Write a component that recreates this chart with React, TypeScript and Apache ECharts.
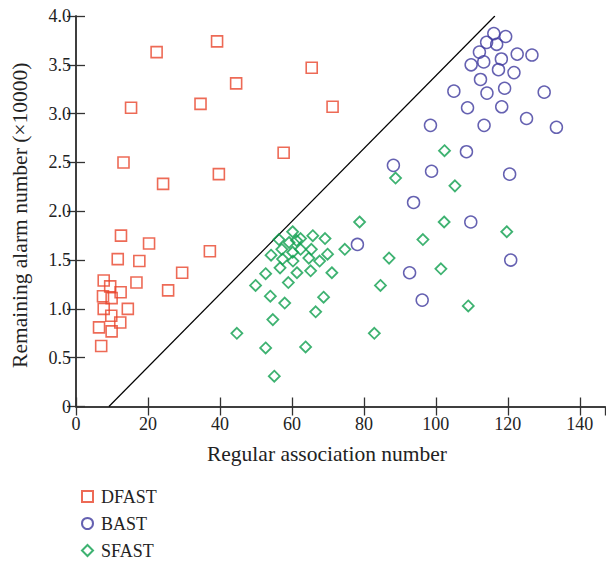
import React, { useEffect, useRef } from "react";
import * as echarts from "echarts";

const dfastX = [22.4, 39.2, 44.5, 15.3, 34.6, 13.2, 24.2, 39.7, 65.5, 71.3, 57.7, 12.5, 20.3, 11.6, 17.6, 37.2, 29.5, 7.7, 16.8, 9.5, 12.4, 7.5, 9.9, 25.6, 7.7, 14.4, 9.8, 12.3, 6.4, 9.9, 7.0];
const dfastY = [3.63, 3.74, 3.31, 3.06, 3.10, 2.50, 2.28, 2.38, 3.47, 3.07, 2.60, 1.75, 1.67, 1.51, 1.49, 1.59, 1.37, 1.29, 1.27, 1.23, 1.17, 1.13, 1.11, 1.19, 1.00, 1.00, 0.93, 0.86, 0.81, 0.77, 0.62];

const bastX = [116.1, 119.4, 114.1, 116.9, 112.1, 122.6, 126.7, 109.8, 113.3, 118.2, 117.4, 121.7, 112.4, 105.0, 114.2, 119.1, 130.1, 108.8, 118.3, 125.2, 113.4, 133.5, 98.5, 108.5, 88.2, 98.8, 120.5, 93.8, 109.7, 120.8, 92.7, 96.2, 78.2];
const bastY = [3.82, 3.79, 3.73, 3.71, 3.63, 3.61, 3.60, 3.50, 3.53, 3.56, 3.45, 3.42, 3.35, 3.23, 3.21, 3.26, 3.22, 3.06, 3.07, 2.95, 2.88, 2.86, 2.88, 2.61, 2.47, 2.41, 2.38, 2.09, 1.89, 1.50, 1.37, 1.09, 1.66];

const sfastX = [78.8, 96.4, 60.2, 56.4, 62.4, 65.8, 69.2, 59.2, 61.3, 57.2, 60.2, 62.4, 65.4, 54.2, 57.4, 60.3, 64.7, 67.7, 69.9, 74.7, 56.7, 52.7, 61.4, 65.2, 71.1, 49.9, 59.0, 54.0, 58.0, 68.8, 66.6, 54.7, 44.7, 52.7, 63.8, 55.1, 84.6, 87.0, 82.9, 102.4, 88.8, 105.3, 102.3, 119.7, 101.4, 109.0];
const sfastY = [1.89, 1.71, 1.79, 1.71, 1.72, 1.75, 1.72, 1.68, 1.70, 1.61, 1.58, 1.61, 1.61, 1.55, 1.51, 1.49, 1.52, 1.49, 1.56, 1.61, 1.42, 1.36, 1.37, 1.39, 1.37, 1.24, 1.27, 1.13, 1.06, 1.12, 0.97, 0.89, 0.75, 0.60, 0.61, 0.31, 1.24, 1.52, 0.75, 2.62, 2.34, 2.26, 1.89, 1.79, 1.41, 1.03];

// reference diagonal line endpoints
const lineX = [9.15, 116.4];
const lineY = [0, 4.0];

const seriesNames = ["DFAST", "BAST", "SFAST"];
const colors = ["#e8452c", "#3f3a9e", "#0e9f4e"];

const zip = (xs: number[], ys: number[]) => xs.map((x, i) => [x, ys[i]]);

const FONT = "Liberation Serif";
const AXIS_COLOR = "#333";

export default function App() {
  const ref = useRef<HTMLDivElement>(null);
  useEffect(() => {
    if (!ref.current) return;
    const chart = echarts.init(ref.current, null, { renderer: "svg" });
    const tick = { show: true, inside: true, length: 9, lineStyle: { color: AXIS_COLOR, width: 1.3 } };
    const line = { show: true, lineStyle: { color: AXIS_COLOR, width: 1.5 } };
    chart.setOption({
      animation: false,
      backgroundColor: "#fff",
      textStyle: { fontFamily: FONT },
      grid: { left: 76, top: 16, width: 529, height: 390.5, containLabel: false },
      legend: {
        orient: "vertical",
        left: 76,
        top: 482,
        height: 120,
        itemWidth: 11,
        itemHeight: 11,
        itemGap: 8,
        textStyle: { fontFamily: FONT, fontSize: 18, lineHeight: 19, color: "#222", padding: [0, 0, 0, 3] },
        data: [
          { name: "DFAST", icon: "rect" },
          { name: "BAST", icon: "circle" },
          { name: "SFAST", icon: "diamond" },
        ],
      },
      xAxis: [
        {
          type: "value",
          min: 0,
          max: 147,
          interval: 20,
          position: "bottom",
          name: "Regular association number",
          nameLocation: "middle",
          nameGap: 36,
          nameTextStyle: { fontFamily: FONT, fontSize: 21.5, color: "#222", padding: [0, 27, 0, 0] },
          axisLine: line,
          axisTick: tick,
          splitLine: { show: false },
          axisLabel: { fontFamily: FONT, fontSize: 18, color: "#222", margin: 8, showMaxLabel: false },
        },
        {
          type: "value",
          min: 0,
          max: 147,
          interval: 20,
          position: "top",
          axisLine: line,
          axisTick: tick,
          splitLine: { show: false },
          axisLabel: { show: false },
        },
      ],
      yAxis: [
        {
          type: "value",
          min: 0,
          max: 4,
          interval: 0.5,
          position: "left",
          name: "Remaining alarm number (×10000)",
          nameLocation: "middle",
          nameGap: 45,
          nameTextStyle: { fontFamily: FONT, fontSize: 21.5, color: "#222", padding: [0, 8, 0, 0] },
          axisLine: line,
          axisTick: tick,
          splitLine: { show: false },
          axisLabel: {
            fontFamily: FONT,
            fontSize: 18,
            color: "#222",
            margin: 5,
            formatter: (v: number) => (v === 0 ? "0" : v.toFixed(1)),
          },
        },
        {
          type: "value",
          min: 0,
          max: 4,
          interval: 0.5,
          position: "right",
          axisLine: line,
          axisTick: tick,
          splitLine: { show: false },
          axisLabel: { show: false },
        },
      ],
      series: [
        {
          name: "Reference",
          type: "line",
          data: zip(lineX, lineY),
          symbol: "none",
          lineStyle: { color: "#000", width: 1.2 },
          silent: true,
          z: 1,
        },
        {
          name: seriesNames[0],
          type: "scatter",
          symbol: "rect",
          symbolSize: 11,
          data: zip(dfastX, dfastY),
          itemStyle: { color: "rgba(255,255,255,0)", borderColor: colors[0], borderWidth: 1.6 },
        },
        {
          name: seriesNames[1],
          type: "scatter",
          symbol: "circle",
          symbolSize: 12,
          data: zip(bastX, bastY),
          itemStyle: { color: "rgba(255,255,255,0)", borderColor: colors[1], borderWidth: 1.5 },
        },
        {
          name: seriesNames[2],
          type: "scatter",
          symbol: "diamond",
          symbolSize: 11,
          data: zip(sfastX, sfastY),
          itemStyle: { color: "rgba(255,255,255,0)", borderColor: colors[2], borderWidth: 1.8 },
        },
      ],
    });
    return () => chart.dispose();
  }, []);
  return <div ref={ref} style={{ width: 606, height: 561, position: "absolute", left: 0, top: 0 }} />;
}
